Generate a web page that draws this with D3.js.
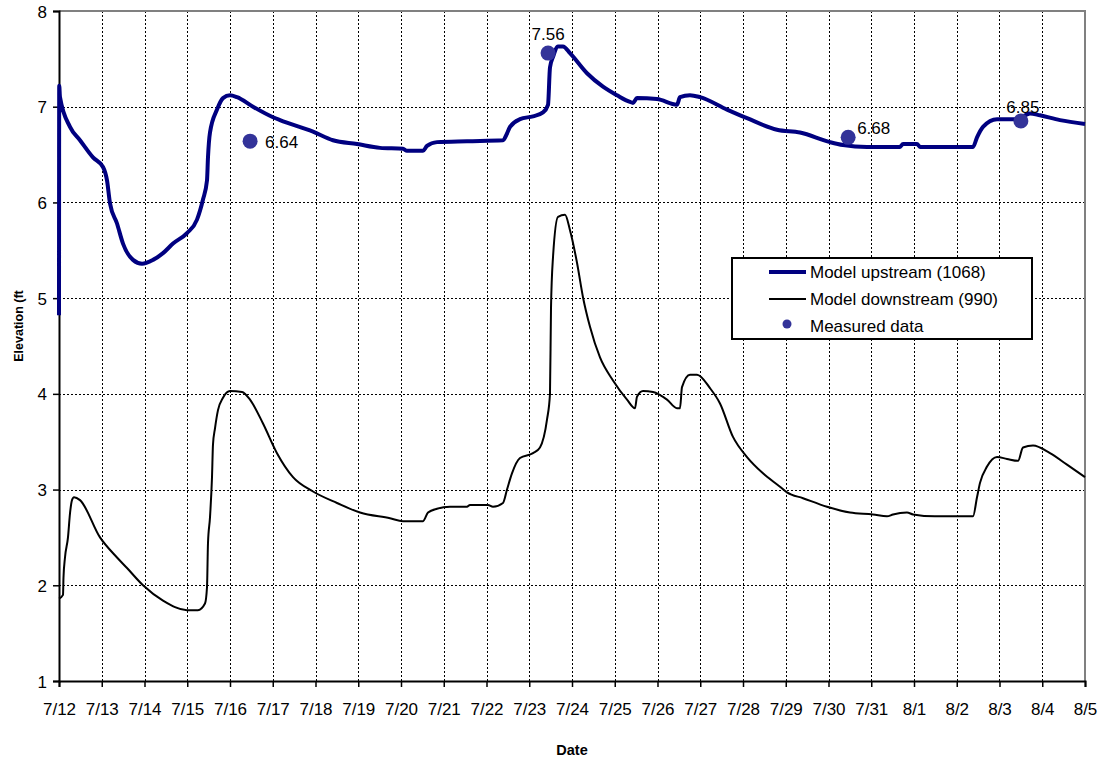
<!DOCTYPE html>
<html>
<head>
<meta charset="utf-8">
<script src="https://cdn.jsdelivr.net/npm/d3@7"></script>
<style>
  html, body { margin: 0; padding: 0; background: #fff; }
  svg { display: block; font-family: "Liberation Sans", Arial, sans-serif; }
</style>
</head>
<body>
<svg id="chart" width="1102" height="763"></svg>
<script>
// Date tick labels, one per day starting at 7/12
const dateLabels = ["7/12","7/13","7/14","7/15","7/16","7/17","7/18","7/19","7/20","7/21",
  "7/22","7/23","7/24","7/25","7/26","7/27","7/28","7/29","7/30","7/31","8/1","8/2","8/3","8/4","8/5"];
const elevTicks = [1, 2, 3, 4, 5, 6, 7, 8];

// Model upstream (1068): time in days after 7/12 00:00, elevation in ft
const upDays = [0, 0.005, 0.023, 0.257, 0.491, 0.795, 1.029, 1.123, 1.193, 1.357, 1.497, 1.731,
  1.942, 2.199, 2.433, 2.667, 2.994, 3.228, 3.368, 3.462, 3.485, 3.532, 3.696, 3.836, 4.0,
  4.164, 4.538, 5.006, 5.17, 5.942, 6.409, 6.971, 7.509, 8.047, 8.14, 8.515, 8.608, 8.842,
  9.544, 10.386, 10.48, 10.55, 10.784, 11.088, 11.322, 11.439, 11.485, 11.556, 11.673, 11.789,
  11.953, 12.351, 12.725, 13.053, 13.357, 13.427, 13.52, 13.988, 14.456, 14.526, 14.76, 14.994,
  15.626, 16.094, 16.795, 17.333, 18.035, 18.339, 18.901, 19.673, 19.743, 20.07, 20.14, 21.38,
  21.474, 21.614, 21.942, 22.409, 22.713, 22.947, 23.415, 24.0];
const upElev = [4.82, 7.22, 7.1, 6.79, 6.65, 6.47, 6.37, 6.23, 5.99, 5.78, 5.57, 5.4,
  5.36, 5.4, 5.47, 5.57, 5.68, 5.82, 6.03, 6.23, 6.47, 6.73, 6.97, 7.09, 7.12,
  7.1, 7.0, 6.89, 6.86, 6.74, 6.65, 6.61, 6.57, 6.56, 6.54, 6.54, 6.59, 6.63,
  6.64, 6.65, 6.72, 6.79, 6.87, 6.9, 6.94, 7.02, 7.41, 7.52, 7.63, 7.63,
  7.56, 7.35, 7.21, 7.12, 7.05, 7.04, 7.09, 7.08, 7.02, 7.1, 7.12, 7.1,
  6.97, 6.88, 6.76, 6.73, 6.63, 6.6, 6.58, 6.58, 6.61, 6.61, 6.58, 6.58,
  6.68, 6.79, 6.87, 6.87, 6.93, 6.91, 6.86, 6.82];

// Model downstream (990)
const downDays = [0, 0.094, 0.105, 0.14, 0.21, 0.257, 0.304, 0.351, 0.491, 0.959, 1.357, 1.591,
  1.965, 2.433, 2.994, 3.251, 3.415, 3.462, 3.485, 3.532, 3.579, 3.602, 3.649, 3.719, 3.836,
  4.0, 4.281, 4.468, 4.772, 5.099, 5.474, 5.942, 6.503, 7.041, 7.743, 8.047, 8.515, 8.632,
  8.842, 9.146, 9.544, 9.614, 10.035, 10.152, 10.386, 10.48, 10.596, 10.784, 11.088, 11.251,
  11.415, 11.485, 11.509, 11.556, 11.673, 11.836, 11.953, 12.117, 12.257, 12.421, 12.655,
  12.959, 13.287, 13.474, 13.52, 13.661, 13.895, 14.222, 14.456, 14.526, 14.573, 14.76,
  14.924, 15.228, 15.462, 15.766, 16.094, 16.468, 16.865, 17.029, 17.404, 17.965, 18.503,
  19.041, 19.368, 19.509, 19.836, 19.977, 20.491, 21.38, 21.474, 21.544, 21.708, 21.942,
  22.175, 22.433, 22.55, 22.784, 23.181, 23.579, 24.0];
const downElev = [1.86, 1.9, 2.08, 2.29, 2.5, 2.75, 2.89, 2.92, 2.89, 2.5, 2.29, 2.18,
  2.0, 1.84, 1.74, 1.74, 1.81, 1.98, 2.44, 2.71, 3.13, 3.47, 3.64, 3.83, 3.96,
  4.03, 4.02, 3.94, 3.69, 3.38, 3.13, 2.98, 2.86, 2.76, 2.7, 2.67, 2.67, 2.76,
  2.8, 2.82, 2.82, 2.84, 2.84, 2.82, 2.86, 3.0, 3.17, 3.33, 3.38, 3.44,
  3.73, 4.0, 4.9, 5.43, 5.85, 5.87, 5.71, 5.37, 5.01, 4.7, 4.38,
  4.14, 3.94, 3.85, 3.97, 4.03, 4.02, 3.94, 3.85, 3.85, 4.07, 4.2,
  4.2, 4.06, 3.9, 3.55, 3.34, 3.17, 3.03, 2.97, 2.91, 2.82, 2.76,
  2.74, 2.72, 2.74, 2.76, 2.74, 2.72, 2.72, 2.92, 3.07, 3.24, 3.34,
  3.32, 3.3, 3.44, 3.46, 3.38, 3.26, 3.13];

// Measured data
const measuredDays = [4.47, 11.44, 18.46, 22.5];
const measuredElev = [6.64, 7.56, 6.68, 6.85];
const measuredText = ["6.64", "7.56", "6.68", "6.85"];

const svg = d3.select("#chart");
const plot = { left: 59, right: 1085, top: 11, bottom: 681 };

const x = d3.scaleLinear().domain([0, dateLabels.length - 1]).range([plot.left, plot.right]);
const y = d3.scaleLinear().domain([1, 8]).range([plot.bottom, plot.top]);

svg.append("rect").attr("width", 1102).attr("height", 763).attr("fill", "#fff");

// Dotted grid
const grid = svg.append("g").attr("stroke", "#000").attr("stroke-width", 1)
  .attr("stroke-dasharray", "2,2").attr("shape-rendering", "crispEdges");
grid.selectAll("line.v").data(d3.range(1, dateLabels.length - 1)).join("line")
  .attr("class", "v")
  .attr("x1", d => Math.round(x(d)) + 0.5).attr("x2", d => Math.round(x(d)) + 0.5)
  .attr("y1", plot.top).attr("y2", plot.bottom);
grid.selectAll("line.h").data(elevTicks.filter(d => d > 1 && d < 8)).join("line")
  .attr("class", "h")
  .attr("y1", d => Math.round(y(d)) + 0.5).attr("y2", d => Math.round(y(d)) + 0.5)
  .attr("x1", plot.left).attr("x2", plot.right);

// Grey frame on top and right
svg.append("path")
  .attr("d", `M${plot.left},${plot.top}H${plot.right}V${plot.bottom}`)
  .attr("fill", "none").attr("stroke", "#808080").attr("stroke-width", 2);

// Axes
const xAxis = svg.append("g")
  .attr("transform", `translate(0,${plot.bottom})`)
  .call(d3.axisBottom(x).tickValues(d3.range(dateLabels.length))
    .tickFormat(i => dateLabels[i]).tickSize(6).tickPadding(16));
const yAxis = svg.append("g")
  .attr("transform", `translate(${plot.left},0)`)
  .call(d3.axisLeft(y).tickValues(elevTicks).tickFormat(d3.format("d")).tickSize(6).tickPadding(6));
[xAxis, yAxis].forEach(a => {
  a.select(".domain").attr("stroke", "#000").attr("stroke-width", 2);
  a.selectAll(".tick line").attr("stroke", "#000").attr("stroke-width", 1.5);
  a.selectAll("text").attr("font-size", 17).attr("fill", "#000")
    .attr("font-family", "'Liberation Sans', Arial, sans-serif");
});
yAxis.selectAll("text").attr("dy", "0.36em");

// Axis titles
svg.append("text").attr("x", 572).attr("y", 755).attr("text-anchor", "middle")
  .attr("font-weight", "bold").attr("font-size", 14.5).text("Date");
svg.append("text").attr("transform", "translate(23,326) rotate(-90)")
  .attr("text-anchor", "middle").attr("font-weight", "bold").attr("font-size", 12.5)
  .text("Elevation (ft");

// Model lines
const lineGen = d3.line().x(d => x(d[0])).y(d => y(d[1])).curve(d3.curveMonotoneX);
const downPts = d3.zip(downDays, downElev);
const upPts = d3.zip(upDays, upElev);

svg.append("path").datum(downPts).attr("d", lineGen)
  .attr("fill", "none").attr("stroke", "#000").attr("stroke-width", 2)
  .attr("stroke-linejoin", "round");
svg.append("path").datum(upPts).attr("d", lineGen)
  .attr("fill", "none").attr("stroke", "#000080").attr("stroke-width", 4)
  .attr("stroke-linejoin", "round");

// Measured points with value labels
const labelPlacement = [
  { dx: 15, dy: 7, anchor: "start" },
  { dx: 0, dy: -13, anchor: "middle" },
  { dx: 9, dy: -3, anchor: "start" },
  { dx: 2, dy: -8, anchor: "middle" }
];
const measured = measuredDays.map((d, i) => ({ day: d, elev: measuredElev[i], text: measuredText[i], p: labelPlacement[i] }));
svg.selectAll("circle.meas").data(measured).join("circle")
  .attr("class", "meas")
  .attr("cx", d => x(d.day)).attr("cy", d => y(d.elev)).attr("r", 7.5)
  .attr("fill", "#333399");
svg.selectAll("text.meas").data(measured).join("text")
  .attr("class", "meas")
  .attr("x", d => x(d.day) + d.p.dx).attr("y", d => y(d.elev) + d.p.dy)
  .attr("text-anchor", d => d.p.anchor).attr("font-size", 17).attr("fill", "#000")
  .text(d => d.text);

// Legend
const legend = svg.append("g").attr("transform", "translate(732,258)");
legend.append("rect").attr("x", 0).attr("y", 0).attr("width", 300).attr("height", 81)
  .attr("fill", "#fff").attr("stroke", "#000").attr("stroke-width", 2);
const legendItems = [
  { label: "Model upstream (1068)", type: "line", color: "#000080", w: 4 },
  { label: "Model downstream (990)", type: "line", color: "#000", w: 2 },
  { label: "Measured data", type: "dot", color: "#333399" }
];
legendItems.forEach((it, i) => {
  const cy = 14 + i * 27;
  if (it.type === "line") {
    legend.append("line").attr("x1", 37).attr("x2", 74).attr("y1", cy).attr("y2", cy)
      .attr("stroke", it.color).attr("stroke-width", it.w);
  } else {
    legend.append("circle").attr("cx", 55).attr("cy", cy - 2).attr("r", 4.5).attr("fill", it.color);
  }
  legend.append("text").attr("x", 78).attr("y", cy).attr("dy", "0.36em")
    .attr("font-size", 17).attr("fill", "#000").text(it.label);
});
</script>
</body>
</html>
